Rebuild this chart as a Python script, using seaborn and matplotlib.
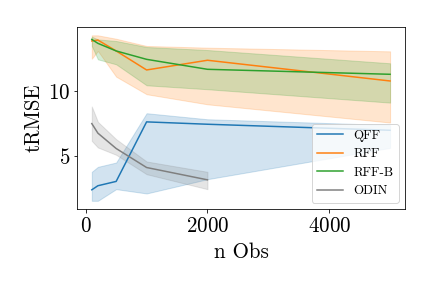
import numpy as np
import pandas as pd
import matplotlib
matplotlib.use("Agg")
import matplotlib.pyplot as plt
import seaborn as sns

plt.rcParams['font.family'] = 'serif'
plt.rcParams['font.serif'] = ['cmr10']
plt.rcParams['mathtext.fontset'] = 'cm'
plt.rcParams['axes.formatter.use_mathtext'] = True

n_obs = [100, 200, 500, 1000, 2000, 5000]
n_obs_odin = [100, 200, 500, 1000, 2000]

qff_mid = [2.46, 2.77, 3.10, 7.64, 7.46, 7.00]
qff_lo = [1.62, 1.62, 2.51, 2.18, 3.27, 5.66]
qff_hi = [3.83, 4.21, 4.54, 8.30, 7.84, 7.40]

rff_mid = [13.81, 13.88, 13.05, 11.60, 12.34, 10.76]
rff_lo = [12.46, 13.05, 11.09, 9.75, 8.98, 7.59]
rff_hi = [14.24, 14.24, 13.98, 13.43, 13.30, 13.02]

rffb_mid = [13.93, 13.63, 13.05, 12.41, 11.65, 11.27]
rffb_lo = [13.43, 12.41, 12.03, 10.43, 10.13, 9.11]
rffb_hi = [14.14, 13.93, 13.81, 13.35, 13.12, 12.11]

odin_mid = [7.51, 6.78, 5.61, 4.16, 3.22]
odin_lo = [6.19, 5.69, 5.13, 3.65, 2.51]
odin_hi = [8.81, 7.64, 6.32, 4.62, 3.83]

methods = ['QFF', 'RFF', 'RFF-B', 'ODIN']
series = {
    'QFF': (n_obs, qff_lo, qff_mid, qff_hi),
    'RFF': (n_obs, rff_lo, rff_mid, rff_hi),
    'RFF-B': (n_obs, rffb_lo, rffb_mid, rffb_hi),
    'ODIN': (n_obs_odin, odin_lo, odin_mid, odin_hi),
}

# three rows per point: median is the line, min/max the band
rows = []
for m in methods:
    xs, lo, mid, hi = series[m]
    for i, x in enumerate(xs):
        for v in (lo[i], mid[i], hi[i]):
            rows.append({'n Obs': x, 'tRMSE': v, 'method': m})
df = pd.DataFrame(rows)

tab = sns.color_palette('tab10')
palette = {'QFF': tab[0], 'RFF': tab[1], 'RFF-B': tab[2], 'ODIN': tab[7]}

fig, ax = plt.subplots(figsize=(6, 4), dpi=72)
sns.lineplot(data=df, x='n Obs', y='tRMSE', hue='method', hue_order=methods,
             palette=palette, estimator='median', errorbar=('pi', 100), ax=ax)
ax.set_xlabel('n Obs', fontsize=21, labelpad=7)
ax.set_ylabel('tRMSE', fontsize=21)
ax.tick_params(labelsize=21)
ax.set_yticks([5, 10])
ax.legend(loc='lower right', fontsize=13, title=None)
fig.subplots_adjust(left=0.178, right=0.9375, bottom=0.274, top=0.906)
fig.savefig('out.png', dpi=72)
